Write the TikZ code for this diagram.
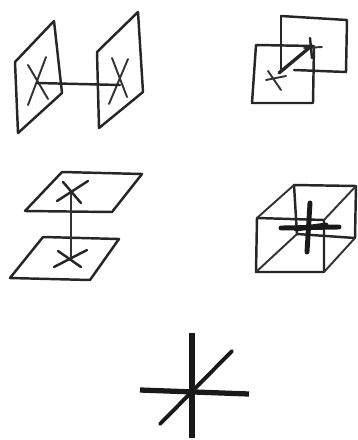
\documentclass[tikz,border=0pt]{standalone}
\usepackage{tikz}
\tikzset{
  pen/.style={line width=1.4pt, line cap=round, line join=round, black!85},
  hair/.style={line width=1.1pt, line cap=round, line join=round, black!80},
  bold/.style={line width=2.8pt, line cap=round, black!90}
}

\begin{document}
\begin{tikzpicture}[x=0.02cm, y=-0.02cm]
  \useasboundingbox (0,0) rectangle (358,440);

  % two upright planes side by side
  \draw[pen] (15,62) -- (54,21) -- (62,93) -- (18,133) -- cycle;
  \draw[pen] (97,52) -- (138,12) -- (143,92) -- (99,128) -- cycle;
  \draw[hair] (28,65) -- (48,99);
  \draw[hair] (46,57) -- (28,105);
  \draw[hair] (112,58) -- (127,97);
  \draw[hair] (128,59) -- (109,104);
  \draw[pen] (37,83) -- (120,85);

  % two squares, one behind the other
  \draw[pen] (281,16) -- (347,20) -- (346,72) -- (294,70);
  \draw[pen] (281,16) -- (281,69);
  \draw[pen] (256,45) -- (314,46) -- (313,103) -- (252,103) -- cycle;
  \draw[hair] (304,48) -- (322,47);
  \draw[pen] (310,38) -- (312,58);
  \draw[line width=1.9pt, line cap=round, black!85] (279,73) -- (309,48);
  \draw[hair] (266,80) -- (286,76);
  \draw[hair] (268,71) -- (281,90);

  % two flat planes, one above the other
  \draw[pen] (62,172) -- (142,174) -- (112,212) -- (25,211) -- cycle;
  \draw[pen] (43,237) -- (119,239) -- (90,280) -- (10,278) -- cycle;
  \draw[hair] (71,192) -- (71,258);
  \draw[pen] (63,182) -- (81,203);
  \draw[pen] (88,181) -- (57,201);
  \draw[pen] (58,251) -- (81,267);
  \draw[pen] (87,250) -- (54,267);

  % cube with the cross inside
  \draw[pen] (257,218) -- (324,220) -- (324,272) -- (256,272) -- cycle;
  \draw[pen] (294,185) -- (356,186) -- (355,238) -- (297,234) -- cycle;
  \draw[hair] (257,218) -- (294,185);
  \draw[hair] (324,220) -- (356,186);
  \draw[hair] (256,272) -- (297,234);
  \draw[hair] (324,272) -- (355,238);
  \draw[bold] (281,228) -- (339,227);
  \draw[bold] (310,203) -- (307,252);
  \draw[bold] (296,229) -- (326,225);

  % the cross alone
  \draw[line width=3pt, black!90] (140,390) -- (249,394);
  \draw[line width=3pt, black!90] (192,333) -- (192,438);
  \draw[line width=2.2pt, line cap=round, black!90] (232,351) -- (160,424);
\end{tikzpicture}
\end{document}
